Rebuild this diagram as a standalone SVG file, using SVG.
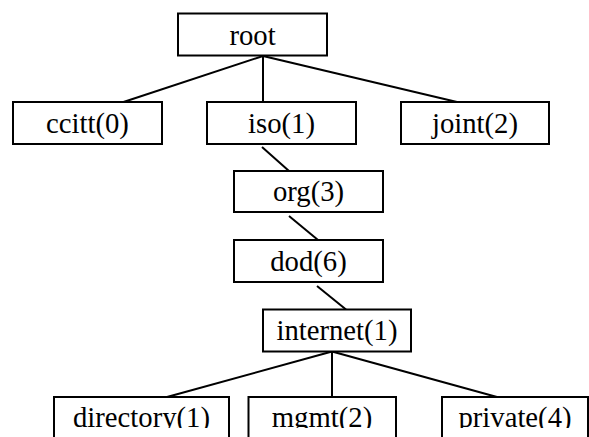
<svg xmlns="http://www.w3.org/2000/svg" width="589" height="437" viewBox="0 0 589 437">
<defs>
<style>
.box{fill:#fff;stroke:#000;stroke-width:2}
.lbl{font-family:"Liberation Serif","Times New Roman",serif;font-size:28.7px;fill:#000;text-anchor:middle}
.con line{stroke:#000;stroke-width:2}
</style>
<clipPath id="cut"><rect x="0" y="0" width="589" height="428"/></clipPath>
</defs>
<rect width="589" height="437" fill="#fff"/>
<g id="connectors" class="con">
<line x1="263" y1="56" x2="123.5" y2="102"/>
<line x1="263" y1="56" x2="263" y2="102"/>
<line x1="263" y1="56" x2="457" y2="102"/>
<line x1="262" y1="147" x2="289" y2="171"/>
<line x1="289" y1="216" x2="318" y2="240"/>
<line x1="317" y1="286" x2="346" y2="309.5"/>
<line x1="332" y1="351.5" x2="167" y2="397"/>
<line x1="332" y1="351.5" x2="332" y2="397"/>
<line x1="332" y1="351.5" x2="497" y2="397"/>
</g>
<g id="root"><rect class="box" x="178" y="13.5" width="149" height="42"/><text class="lbl" x="252.5" y="44.5">root</text></g>
<g id="ccitt"><rect class="box" x="13" y="102" width="149" height="42"/><text class="lbl" x="87.5" y="132.5">ccitt(0)</text></g>
<g id="iso"><rect class="box" x="207" y="102" width="149" height="42"/><text class="lbl" x="281.5" y="132.5">iso(1)</text></g>
<g id="joint"><rect class="box" x="401" y="102" width="148" height="42"/><text class="lbl" x="475" y="132.5">joint(2)</text></g>
<g id="org"><rect class="box" x="234" y="171" width="149" height="41"/><text class="lbl" x="308.5" y="201">org(3)</text></g>
<g id="dod"><rect class="box" x="234" y="240" width="149" height="42"/><text class="lbl" x="308.5" y="270.5">dod(6)</text></g>
<g id="internet"><rect class="box" x="263" y="309.5" width="148" height="42"/><text class="lbl" x="337" y="340">internet(1)</text></g>
<g id="directory"><rect class="box" x="54" y="397" width="175" height="50"/><text class="lbl" x="141.5" y="427" clip-path="url(#cut)">directory(1)</text></g>
<g id="mgmt"><rect class="box" x="248.5" y="397" width="147.5" height="50"/><text class="lbl" x="322" y="427" clip-path="url(#cut)">mgmt(2)</text></g>
<g id="private"><rect class="box" x="442" y="397" width="146" height="50"/><text class="lbl" x="515" y="427" clip-path="url(#cut)">private(4)</text></g>
</svg>
